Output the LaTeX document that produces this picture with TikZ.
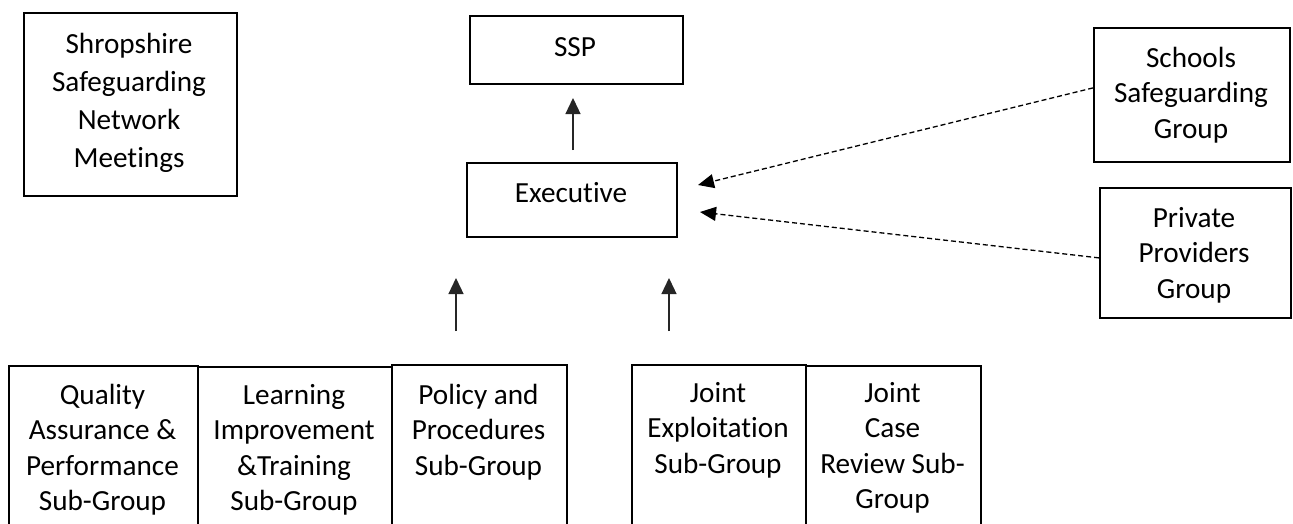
\documentclass[tikz,border=0pt]{standalone}
\usepackage{fontspec}
\setmainfont{Carlito}[Ligatures={NoCommon}]
\usetikzlibrary{arrows.meta}
\begin{document}
\begin{tikzpicture}[x=1pt,y=-1pt,
  box/.style={draw=black, line width=1.8pt, inner sep=0pt, anchor=north west},
  lbl/.style={anchor=north, inner sep=0pt, align=center, font=\fontsize{29.2pt}{35.6pt}\selectfont},
  solidarrow/.style={line width=1.3pt, draw=black!85, -{Triangle[length=16pt,width=15pt]}},
  dasharrow/.style={line width=1.3pt, dash pattern=on 5pt off 3pt, -{Triangle[length=16pt,width=14pt]}}]
\fill[white] (0,0) rectangle (1293,523);
\useasboundingbox (0,0) rectangle (1293,523);
\clip (0,0) rectangle (1293,523);

% top boxes
\node[box, minimum width=213pt, minimum height=183pt] (shrop) at (23,12) {};
\node[lbl, font=\fontsize{29.2pt}{38pt}\selectfont] (shropt) at (129,27) {\strut Shropshire\\Safeguarding\\Network\\Meetings};

\node[box, minimum width=213pt, minimum height=68pt] (ssp) at (469,15) {};
\node[lbl] (sspt) at (575,31) {\strut SSP};

\node[box, minimum width=210pt, minimum height=74pt] (exec) at (466,162) {};
\node[lbl] (exect) at (571,177) {\strut Executive};

\node[box, minimum width=196pt, minimum height=134pt] (ss) at (1093,27) {};
\node[lbl] (sst) at (1191,42) {\strut Schools\\Safeguarding\\Group};

\node[box, minimum width=191pt, minimum height=130pt] (pp) at (1099,187) {};
\node[lbl] (ppt) at (1194,202) {\strut Private\\Providers\\Group};

% bottom boxes (open at the bottom of the picture)
\node[box, minimum width=189pt, minimum height=200pt] (qa) at (8,365) {};
\node[lbl] (qat) at (102.5,379) {\strut Quality\\Assurance \&\\Performance\\Sub-Group};

\node[box, minimum width=194pt, minimum height=200pt] (lit) at (197,366) {};
\node[lbl] (litt) at (294,379) {\strut Learning\\Improvement\\\&Training\\Sub-Group};

\node[box, minimum width=175pt, minimum height=200pt] (pol) at (391,364) {};
\node[lbl] (polt) at (478.5,379) {\strut Policy and\\Procedures\\Sub-Group};

\node[box, minimum width=174pt, minimum height=200pt] (je) at (631,364) {};
\node[lbl] (jet) at (718,377) {\strut Joint\\Exploitation\\Sub-Group};

\node[box, minimum width=175pt, minimum height=200pt] (jc) at (805,365) {};
\node[lbl] (jct) at (892.5,377) {\strut Joint\\Case\\Review Sub-\\Group};

% arrow ends
\coordinate (a1s) at (573,150);
\coordinate (a1e) at (573,98);
\coordinate (a2s) at (456,331);
\coordinate (a2e) at (456,278);
\coordinate (a3s) at (669,331);
\coordinate (a3e) at (669,278);
\coordinate (d1e) at (698,185);
\coordinate (d2e) at (700,212);

\draw[solidarrow] (a1s) -- (a1e);
\draw[solidarrow] (a2s) -- (a2e);
\draw[solidarrow] (a3s) -- (a3e);
\draw[dasharrow] ([yshift=7pt]ss.west) -- (d1e);
\draw[dasharrow] ([yshift=-5pt]pp.west) -- (d2e);
\end{tikzpicture}
\end{document}
